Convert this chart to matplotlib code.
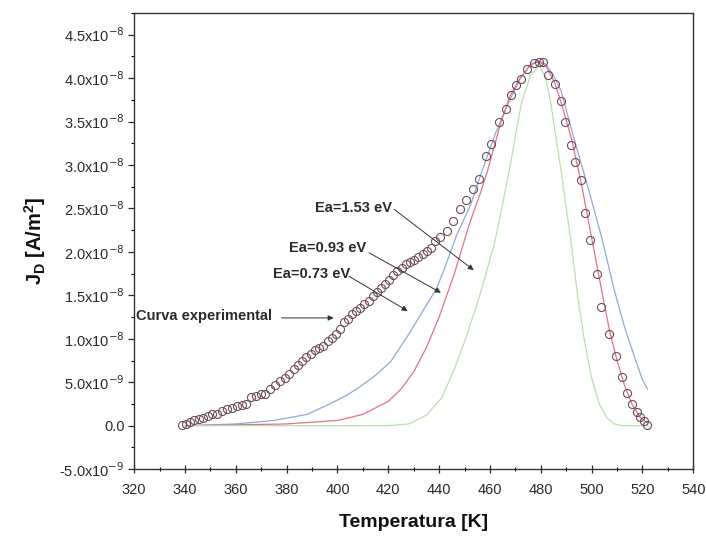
import numpy as np
import matplotlib
matplotlib.use("Agg")
import matplotlib.pyplot as plt
from matplotlib.ticker import MultipleLocator, FixedLocator

plt.rcParams["font.family"] = ["Liberation Sans", "DejaVu Sans"]

# experimental points: temperature [K], current density [1e-9 A/m^2]
exp_T = [338.8, 340.5, 342.1, 343.7, 345.4, 347.1, 348.9, 350.8, 352.6, 354.6,
         356.6, 358.5, 360.5, 362.5, 364.2, 366.0, 368.0, 370.0, 371.6, 373.6,
         375.6, 377.2, 379.2, 381.0, 382.8, 384.5, 386.1, 387.8, 389.4, 391.1,
         392.8, 394.4, 396.3, 398.0, 399.5, 401.1, 402.6, 404.2, 405.8, 407.4,
         409.0, 410.6, 412.3, 413.9, 415.5, 417.1, 418.8, 420.4, 422.0, 423.6,
         425.3, 426.9, 428.5, 430.2, 431.8, 433.5, 435.1, 436.8, 438.5, 440.5,
         443.0, 445.3, 448.3, 450.5, 453.2, 455.6, 458.5, 460.6, 463.7, 466.5,
         468.2, 470.3, 472.3, 474.6, 477.3, 479.3, 480.9, 482.8, 485.4, 487.8,
         489.4, 491.7, 493.6, 495.7, 497.2, 499.2, 502.1, 503.8, 506.9, 509.5,
         512.0, 514.0, 516.0, 517.7, 519.2, 520.5, 521.8]
exp_J = [0.08, 0.23, 0.46, 0.61, 0.73, 0.92, 1.07, 1.30, 1.35, 1.69,
         1.88, 1.99, 2.30, 2.38, 2.45, 3.34, 3.45, 3.60, 3.60, 4.18,
         4.68, 5.14, 5.52, 5.90, 6.48, 6.98, 7.45, 7.91, 8.20, 8.67,
         8.98, 9.17, 9.75, 10.1, 10.6, 11.1, 11.9, 12.3, 12.8, 13.2,
         13.6, 14.0, 14.4, 14.9, 15.4, 15.9, 16.3, 16.8, 17.3, 17.8,
         18.2, 18.6, 18.8, 19.1, 19.4, 19.7, 20.1, 20.5, 21.2, 21.7,
         22.4, 23.6, 24.9, 26.0, 27.2, 28.4, 31.0, 32.4, 34.9, 36.4,
         38.0, 39.2, 39.9, 41.0, 41.7, 41.8, 41.8, 40.4, 39.3, 37.4,
         34.9, 32.3, 30.4, 28.3, 24.5, 21.4, 17.4, 13.7, 10.6, 8.0,
         5.6, 3.8, 2.5, 1.6, 1.0, 0.5, 0.1]

# simulated curves
blue_T = [340, 360, 375, 388, 397, 403, 408, 415, 421, 428, 434, 439, 442, 447,
          452.5, 456.5, 462, 467, 472, 476, 479, 482, 485, 488, 493, 498.6, 504,
          509, 513, 517, 520, 522]
blue_J = [0.0, 0.2, 0.6, 1.3, 2.5, 3.4, 4.3, 5.8, 7.4, 10.5, 13.4, 15.8, 18.0, 22.0,
          25.5, 29.0, 33.5, 37.0, 40.0, 41.6, 42.0, 41.6, 40.3, 38.5, 33.1, 27.4, 21.6,
          15.5, 11.3, 7.8, 5.3, 4.2]

red_T = [340, 380, 400, 410, 420, 425, 430, 435, 440, 446, 452, 456.5, 459, 464.4,
         468, 472.3, 476, 479, 482, 485.4, 488, 492, 496, 500, 504, 507, 510, 513,
         516, 519, 522]
red_J = [0.0, 0.2, 0.6, 1.3, 2.8, 4.2, 6.2, 9.0, 12.5, 17.5, 23.3, 27.0, 29.3, 35.0,
         38.0, 40.2, 41.5, 41.9, 41.4, 39.5, 37.2, 33.1, 27.8, 21.6, 15.5, 11.0, 7.5,
         4.6, 2.4, 1.0, 0.3]

green_T = [340, 420, 428, 435, 441, 446, 451, 456, 461.7, 465, 468.3, 472.3, 476,
           479.5, 482, 484, 488, 492, 494.6, 497, 500, 503, 506, 509, 512, 522]
green_J = [0.0, 0.0, 0.2, 1.2, 3.2, 6.5, 10.5, 15.0, 20.9, 25.5, 30.5, 37.0, 40.4,
           41.4, 40.0, 37.0, 29.3, 20.9, 14.7, 10.1, 5.5, 2.5, 0.9, 0.2, 0.0, 0.0]

y_ticks = [-5e-9, 0, 5e-9, 1e-8, 1.5e-8, 2e-8, 2.5e-8, 3e-8, 3.5e-8, 4e-8, 4.5e-8]
y_labels = ["-5.0x10$^{-9}$", "0.0", "5.0x10$^{-9}$", "1.0x10$^{-8}$", "1.5x10$^{-8}$",
            "2.0x10$^{-8}$", "2.5x10$^{-8}$", "3.0x10$^{-8}$", "3.5x10$^{-8}$",
            "4.0x10$^{-8}$", "4.5x10$^{-8}$"]

# (label, text position, arrow start, arrow tip) in data units (K, 1e-9)
notes = [
    ("Ea=1.53 eV", (406.5, 25.0), (422.3, 24.9), (453.6, 17.9)),
    ("Ea=0.93 eV", (396.0, 20.5), (412.4, 19.9), (440.7, 15.3)),
    ("Ea=0.73 eV", (389.8, 17.4), (404.5, 17.2), (427.6, 13.2)),
    ("Curva experimental", (347.6, 12.6), (378.0, 12.4), (398.5, 12.4)),
]

ink = "#2a2a2a"
fig = plt.figure(figsize=(7.06, 5.38), dpi=100)
ax = fig.add_axes([0.190, 0.128, 0.792, 0.848])

sc = 1e-9
ax.plot(blue_T, np.array(blue_J) * sc, color="#8fa9d9", lw=0.9)
ax.plot(red_T, np.array(red_J) * sc, color="#e07484", lw=0.9)
ax.plot(green_T, np.array(green_J) * sc, color="#b9e0ad", lw=0.9)
ax.plot(exp_T, np.array(exp_J) * sc, ls="none", marker="o", ms=5.8,
        mfc="none", mec="#6d4c5c", mew=0.8)

for label, txt, start, tip in notes:
    ax.text(txt[0], txt[1] * sc, label, ha="center", va="center",
            fontsize=10.5, fontweight="bold", color=ink)
    ax.annotate("", xy=(tip[0], tip[1] * sc), xytext=(start[0], start[1] * sc),
                arrowprops=dict(arrowstyle="-|>", color="#333", lw=0.7,
                                mutation_scale=8, shrinkA=0, shrinkB=0))

ax.set_xlim(320, 540)
ax.set_ylim(-5e-9, 4.75e-8)
ax.xaxis.set_major_locator(MultipleLocator(20))
ax.xaxis.set_minor_locator(MultipleLocator(10))
ax.yaxis.set_major_locator(FixedLocator(y_ticks))
ax.yaxis.set_minor_locator(MultipleLocator(2.5e-9))
ax.set_yticklabels(y_labels)

ax.tick_params(axis="x", which="major", direction="inout", length=6, width=0.9,
               pad=7, labelsize=10.5, colors=ink)
ax.tick_params(axis="x", which="minor", direction="inout", length=3, width=0.8)
ax.tick_params(axis="y", which="major", direction="out", length=4, width=0.9,
               pad=3, labelsize=10.5, colors=ink)
ax.tick_params(axis="y", which="minor", direction="out", length=2, width=0.8)
for s in ax.spines.values():
    s.set_color("#333")
    s.set_linewidth(1.0)

ax.set_xlabel("Temperatura [K]", fontsize=14, fontweight="bold", color="#111",
              labelpad=12)
ax.set_ylabel("J$_\\mathregular{D}$ [A/m$^\\mathregular{2}$]", fontsize=14.5,
              fontweight="bold", color="#111", labelpad=8)

fig.savefig("out.png", dpi=100)
